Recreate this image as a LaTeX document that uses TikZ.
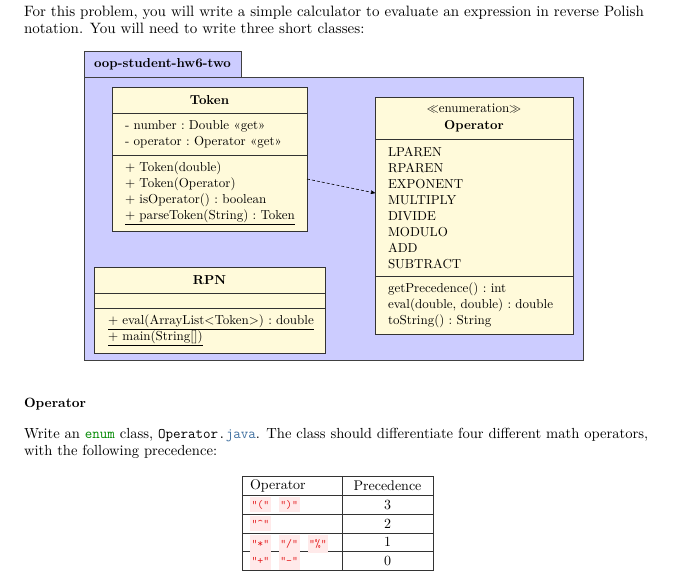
\documentclass[tikz,border=0pt]{standalone}
\usepackage{fontspec}
\setmainfont{lmroman10-regular.otf}[BoldFont=lmroman10-bold.otf,
  ItalicFont=lmroman10-italic.otf, BoldItalicFont=lmroman10-bolditalic.otf]
\usetikzlibrary{arrows,positioning,calc}
\definecolor{pkgblue}{RGB}{204,204,255}
\definecolor{clsyellow}{RGB}{255,250,218}
\definecolor{codered}{RGB}{228,26,28}
\definecolor{codepink}{RGB}{255,234,234}
\definecolor{kwgreen}{RGB}{0,136,0}
\definecolor{attrblue}{RGB}{64,112,160}

\begin{document}
\begin{tikzpicture}[
    x=1pt, y=-1pt, >=stealth', outer sep=0pt,
    txt/.style={anchor=base west, inner sep=0pt, font=\fontsize{15}{17}\selectfont},
    pkg/.style={draw=black!75, fill=pkgblue, line width=1pt},
    head/.style={draw=black!80, fill=clsyellow, line width=0.7pt, inner sep=0pt,
      font=\fontsize{13}{17}\selectfont\frenchspacing, align=center},
    comp/.style={draw=black!80, fill=clsyellow, line width=0.7pt, inner xsep=13pt,
      inner ysep=0pt, font=\fontsize{13}{16}\selectfont\frenchspacing, align=left},
    tcell/.style={draw=black!80, line width=0.7pt, inner xsep=8pt, inner ysep=0pt,
      minimum height=19pt, font=\fontsize{14}{17}\selectfont},
    code/.style={fill=codepink, text=codered, inner xsep=1.5pt, inner ysep=0pt,
      minimum height=15pt, font=\fontsize{11.5}{12}\ttfamily}]
    \useasboundingbox (0,0) rectangle (686,579);

    % intro
    \node[txt] (L1) at (24,16) {For this problem, you will write a simple calculator to evaluate an expression in reverse Polish};
    \node[txt] (L2) at (24,33) {notation. You will need to write three short classes:};

    % package
    \node[pkg, minimum width=157pt, minimum height=26pt, anchor=north west,
      font=\fontsize{13}{16}\selectfont\bfseries] (P0) at (84,51) {oop-student-hw6-two};
    \node[pkg, minimum width=499pt, minimum height=283pt, anchor=north west] (P1) at (84,77) {};

    % Token
    \node[head, minimum width=195pt, minimum height=26pt, anchor=north west] (T0) at (112,87) {\textbf{Token}};
    \node[comp, text width=169pt, minimum height=42pt] (T1) [below=0pt of T0] {- number : Double «get»\\- operator : Operator «get»};
    \node[comp, text width=169pt, minimum height=76pt] (T2) [below=0pt of T1] {+ Token(double)\\+ Token(Operator)\\+ isOperator() : boolean\\\underline{+ parseToken(String) : Token}};

    % Operator
    \node[head, minimum width=198pt, minimum height=42pt, anchor=north west] (O0) at (375,97) {$\ll$enumeration$\gg$\\\textbf{Operator}};
    \node[comp, text width=172pt, minimum height=137pt] (O1) [below=0pt of O0] {LPAREN\\RPAREN\\EXPONENT\\MULTIPLY\\DIVIDE\\MODULO\\ADD\\SUBTRACT};
    \node[comp, text width=172pt, minimum height=58pt] (O2) [below=0pt of O1] {getPrecedence() : int\\eval(double, double) : double\\toString() : String};

    % RPN
    \node[head, minimum width=231pt, minimum height=26pt, anchor=north west] (R0) at (94,267) {\textbf{RPN}};
    \node[comp, text width=203pt, inner xsep=14pt, minimum height=15pt] (R1) [below=0pt of R0] {};
    \node[comp, text width=203pt, inner xsep=14pt, minimum height=45pt] (R2) [below=0pt of R1] {\underline{+ eval(ArrayList<Token>) : double}\\\underline{+ main(String[])}};

    \draw[->, dash pattern=on 3pt off 2pt, line width=0.6pt] ([yshift=14pt]T2.east) -- (O1.west |- T2.east);

    % Operator section
    \node[txt, font=\fontsize{13.5}{17}\selectfont\bfseries] (H1) at (24,407) {Operator};
    \node[txt, font=\fontsize{14.6}{17}\selectfont] (L3) at (24,438) {Write an \textcolor{kwgreen}{\texttt{enum}} class, \texttt{Operator.\textcolor{attrblue}{java}}. The class should differentiate four different math operators,};
    \node[txt, font=\fontsize{14.6}{17}\selectfont] (L4) at (24,455) {with the following precedence:};

    % table
    \node[tcell, text width=84pt, align=left, anchor=north west] (A0) at (242,476) {Operator};
    \node[tcell, minimum width=91pt] (B0) [right=0pt of A0] {Precedence};
    \node[tcell, text width=84pt] (A1) [below=0pt of A0] {};
    \node[tcell, minimum width=91pt] (B1) [right=0pt of A1] {3};
    \node[tcell, text width=84pt] (A2) [below=0pt of A1] {};
    \node[tcell, minimum width=91pt] (B2) [right=0pt of A2] {2};
    \node[tcell, text width=84pt, minimum height=18pt] (A3) [below=0pt of A2] {};
    \node[tcell, minimum width=91pt, minimum height=18pt] (B3) [right=0pt of A3] {1};
    \node[tcell, text width=84pt] (A4) [below=0pt of A3] {};
    \node[tcell, minimum width=91pt] (B4) [right=0pt of A4] {0};

    \node[code, anchor=west] (C11) at ([xshift=8pt]A1.west) {"("};
    \node[code] (C12) [right=8pt of C11] {")"};
    \node[code, anchor=west] (C21) at ([xshift=8pt]A2.west) {"\string^"};
    \node[code, anchor=west, minimum height=18pt] (C31) at ([xshift=8pt,yshift=-1.5pt]A3.west) {"*"};
    \node[code, minimum height=18pt] (C32) [right=8pt of C31] {"/"};
    \node[code, minimum height=18pt] (C33) [right=8pt of C32] {"\%"};
    \node[code, anchor=west, minimum height=18pt] (C41) at ([xshift=8pt]A4.west) {"+"};
    \node[code, minimum height=18pt] (C42) [right=8pt of C41] {"-"};
\end{tikzpicture}
\end{document}
